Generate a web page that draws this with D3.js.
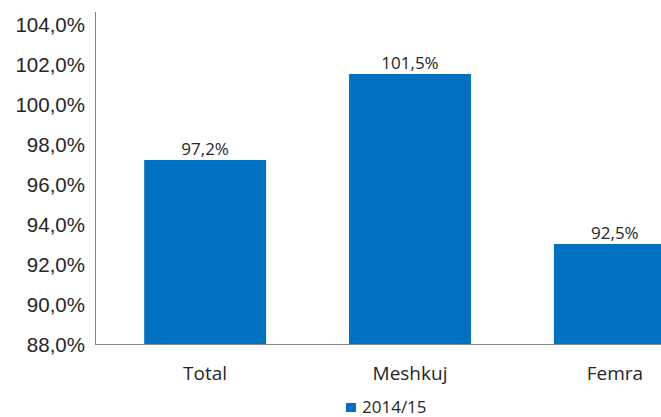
<!DOCTYPE html>
<html>
<head>
<meta charset="utf-8">
<script src="https://cdn.jsdelivr.net/npm/d3@7"></script>
<style>
  body { margin: 0; background: #fff; }
  svg { display: block; font-family: "Open Sans", sans-serif; }
</style>
</head>
<body>
<script>
// chart data
var categories = ['Total', 'Meshkuj', 'Femra'];
var values = [97.2, 101.5, 93.0];
var valueLabels = ['97,2%', '101,5%', '92,5%'];
var yTicks = [88, 90, 92, 94, 96, 98, 100, 102, 104];
var seriesName = '2014/15';

var width = 661, height = 417;
var blue = '#0070C0';
var textColor = '#262626';

var svg = d3.select('body').append('svg')
  .attr('width', width)
  .attr('height', height);

var y = d3.scaleLinear().domain([88, 104]).range([344, 24]);

var x = d3.scaleBand()
  .domain(categories)
  .range([95, 725])
  .paddingInner(0.405)
  .paddingOuter(0.24);

// y axis
var yAxis = svg.append('g')
  .attr('transform', 'translate(95,0)')
  .call(d3.axisLeft(y).tickValues(yTicks).tickSize(0).tickPadding(10)
    .tickFormat(function (d) { return d3.format('.1f')(d).replace('.', ',') + '%'; }));
yAxis.select('.domain').remove();
yAxis.selectAll('text')
  .attr('fill', textColor)
  .style('font-size', '20.5px')
  .attr('dy', '0.35em');

// bars
svg.selectAll('rect.bar')
  .data(values)
  .enter()
  .append('rect')
  .attr('class', 'bar')
  .attr('x', function (d, i) { return x(categories[i]); })
  .attr('y', function (d) { return y(d); })
  .attr('width', x.bandwidth())
  .attr('height', function (d) { return y(88) - y(d); })
  .attr('fill', blue);

// axis lines
svg.append('line')
  .attr('x1', 95.5).attr('x2', 95.5)
  .attr('y1', 12).attr('y2', 344)
  .attr('stroke', '#868686');
svg.append('line')
  .attr('x1', 95).attr('x2', width)
  .attr('y1', 344.5).attr('y2', 344.5)
  .attr('stroke', '#868686');

// value labels
svg.selectAll('text.val')
  .data(values)
  .enter()
  .append('text')
  .attr('class', 'val')
  .attr('x', function (d, i) { return x(categories[i]) + x.bandwidth() / 2; })
  .attr('y', function (d) { return y(d) - 5; })
  .attr('text-anchor', 'middle')
  .attr('fill', textColor)
  .style('font-size', '17px')
  .text(function (d, i) { return valueLabels[i]; });

// category labels
svg.selectAll('text.cat')
  .data(categories)
  .enter()
  .append('text')
  .attr('class', 'cat')
  .attr('x', function (d) { return x(d) + x.bandwidth() / 2; })
  .attr('y', 380)
  .attr('text-anchor', 'middle')
  .attr('fill', textColor)
  .style('font-size', '19px')
  .text(function (d) { return d; });

// legend
var legend = svg.append('g').attr('transform', 'translate(346,403)');
legend.append('rect')
  .attr('width', 10).attr('height', 9)
  .attr('fill', blue);
legend.append('text')
  .attr('x', 16).attr('y', 9.5)
  .attr('fill', textColor)
  .style('font-size', '17px')
  .text(seriesName);
</script>
</body>
</html>
